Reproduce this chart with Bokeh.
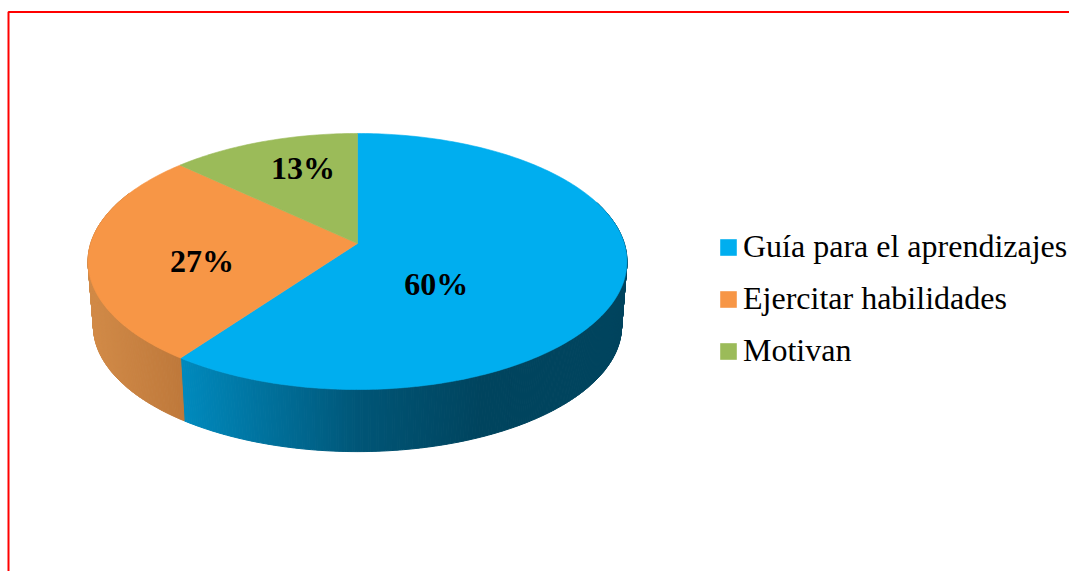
import numpy as np
from bokeh.plotting import figure
from bokeh.models import Range1d, Legend, LegendItem
from bokeh.core.properties import value
from bokeh.embed import file_html
from bokeh.resources import INLINE

categories = ["Guía para el aprendizajes", "Ejercitar habilidades", "Motivan"]
percent_values = [60, 27, 13]
percent_labels = ["60%", "27%", "13%"]

# styling
top_colors = ["#00AEEF", "#F79646", "#9BBB59"]
wall_stops = [
    ([181, 300, 360, 480, 630], [(0, 138, 190), (0, 103, 143), (0, 85, 118), (0, 68, 94), (0, 68, 94)]),
    ([88, 184], [(210, 139, 72), (190, 120, 58)]),
]
FONT = "Liberation Serif"

# layout of the projected pie, in picture pixels
CX, CY = 357.0, 243.0
A, B, K = 266.8, 125.5, 0.1406      # projective disc: half axes and perspective strength
DROP, WALL_SCALE = 65.0, 0.98       # centre of the lower rim and its scale
label_offsets = [(-54, 20), (-21, 12), (-7.5, -24)]


def top_rim(t_deg):
    t = np.radians(np.asarray(t_deg, dtype=float))
    z = -np.cos(t)
    d = 1 - K * z
    return A * np.sin(t) / d, B * z / d


def lower_rim(t_deg):
    x, y = top_rim(t_deg)
    return CX + WALL_SCALE * x, CY + DROP + WALL_SCALE * y


def wall_color(stops, x):
    xs, cols = stops
    c = [np.interp(x, xs, [col[i] for col in cols]) for i in range(3)]
    return "#%02x%02x%02x" % tuple(int(round(v)) for v in c)


edges = np.concatenate([[0], np.cumsum(percent_values)]) * 360.0 / sum(percent_values)

p = figure(width=1069, height=571, x_range=Range1d(0, 1069), y_range=Range1d(571, 0),
           output_backend="svg", toolbar_location=None, min_border=0,
           x_axis_type=None, y_axis_type=None, outline_line_color=None,
           background_fill_color="white", border_fill_color="white")
p.grid.visible = False

# page frame
p.line([8, 8, 1069], [571, 11.5, 11.5], line_color="#FF0000", line_width=2)

# side wall: narrow strips that carry the shading, drawn behind the top faces
wall_ranges = [(70.0, edges[1]), (edges[1], 295.0)]
for (t0, t1), stops in zip(wall_ranges, wall_stops):
    ts = np.arange(t0, t1 + 0.25, 0.5)
    ts[-1] = t1
    xs, ys, cs = [], [], []
    for a, b in zip(ts[:-1], ts[1:]):
        xa, ya = top_rim(a)
        xb, yb = top_rim(b)
        lxa, lya = lower_rim(a)
        lxb, lyb = lower_rim(b)
        xs.append([CX + xa, CX + xb, lxb, lxa])
        ys.append([CY + ya, CY + yb, lyb, lya])
        cs.append(wall_color(stops, (CX + xa + lxb) / 2))
    p.patches(xs, ys, fill_color=cs, line_color=cs, line_width=1)

# top faces
items = []
for i, (name, col) in enumerate(zip(categories, top_colors)):
    ts = np.linspace(edges[i], edges[i + 1], int(edges[i + 1] - edges[i]) + 2)
    rx, ry = top_rim(ts)
    r = p.patch(np.concatenate([[CX], CX + rx]), np.concatenate([[CY], CY + ry]),
                fill_color=col, line_color=col, line_width=0.6)
    items.append(LegendItem(label=name, renderers=[r]))

# percentage labels
for i, lab in enumerate(percent_labels):
    mid = (edges[i] + edges[i + 1]) / 2
    mx, my = top_rim(mid)
    p.text([CX + 0.5 * mx], [CY + 0.5 * my], text=[lab], text_font=value(FONT),
           text_font_size="32px", text_font_style="bold", text_color="#000000",
           text_align="center", text_baseline="middle",
           x_offset=label_offsets[i][0], y_offset=label_offsets[i][1])

legend = Legend(items=items, location=(718, 202), orientation="vertical",
                border_line_color=None, background_fill_alpha=0, padding=0, margin=0,
                glyph_width=20, glyph_height=20, label_standoff=5, spacing=15,
                label_text_font=FONT, label_text_font_size="32px", label_text_color="#000000",
                label_height=32, label_text_line_height=1.0)
p.add_layout(legend, "center")

open("out.html", "w").write(file_html(p, INLINE))
